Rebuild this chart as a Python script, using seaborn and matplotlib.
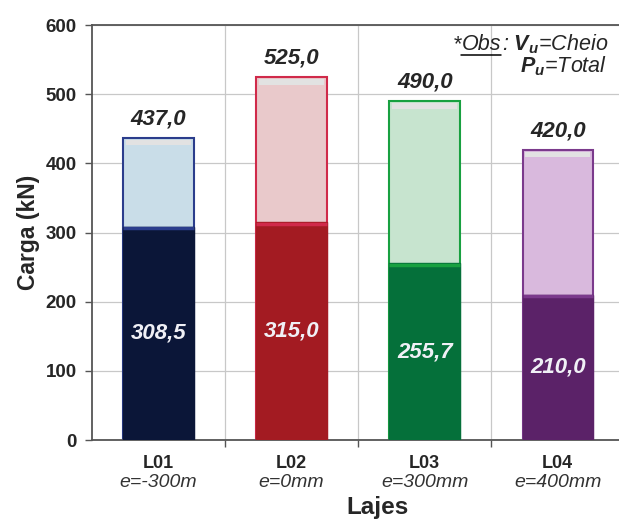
import seaborn as sns
import matplotlib.pyplot as plt
import pandas as pd

lajes = ['L01', 'L02', 'L03', 'L04']
excentricidade = ['e=-300m', 'e=0mm', 'e=300mm', 'e=400mm']
p_total = [437.0, 525.0, 490.0, 420.0]
v_cheio = [308.5, 315.0, 255.7, 210.0]

cores_escuras = ['#0b1638', '#a31b22', '#05703a', '#5b2268']
cores_claras = ['#c9dde8', '#e9c9cb', '#c7e4cf', '#d9b9dd']
cores_borda = ['#2b3d8c', '#d02a4a', '#18a040', '#7b3a8c']

sns.set_style('white')
plt.rcParams['font.family'] = ['Liberation Sans', 'DejaVu Sans']
plt.rcParams['mathtext.fontset'] = 'custom'
plt.rcParams['mathtext.bf'] = 'Liberation Sans:bold:italic'
plt.rcParams['mathtext.it'] = 'Liberation Sans:italic'
plt.rcParams['mathtext.rm'] = 'Liberation Sans:italic'

d = pd.DataFrame({'laje': lajes, 'total': p_total, 'cheio': v_cheio})

fig = plt.figure(figsize=(6.19, 5.22), dpi=100)
ax = fig.add_axes([0.1486, 0.157, 0.86, 0.795])

sns.barplot(data=d, x='laje', y='total', hue='laje', palette=cores_claras,
            legend=False, width=0.53, saturation=1, ax=ax, zorder=2)
n = len(ax.patches)
sns.barplot(data=d, x='laje', y='cheio', hue='laje', palette=cores_escuras,
            legend=False, width=0.53, saturation=1, ax=ax, zorder=3)

for i, p in enumerate(ax.patches[:n]):
    p.set_edgecolor(cores_borda[i])
    p.set_linewidth(1.5)
    # brilho no topo
    ax.fill_between([p.get_x() + 0.02, p.get_x() + p.get_width() - 0.02],
                    p_total[i] - 11, p_total[i] - 3, color='#e2e2e2', lw=0, zorder=2.5)
for i, p in enumerate(ax.patches[n:]):
    p.set_edgecolor(cores_escuras[i])
    p.set_linewidth(1.0)
    ax.plot([p.get_x(), p.get_x() + p.get_width()], [v_cheio[i] - 2, v_cheio[i] - 2],
            color=cores_borda[i], lw=2.5, zorder=4, solid_capstyle='butt')

for i in range(len(lajes)):
    ax.text(i, p_total[i] + 12, f'{p_total[i]:.1f}'.replace('.', ','),
            ha='center', va='bottom', fontsize=16, fontweight='bold', style='italic')
    ax.text(i, v_cheio[i] / 2, f'{v_cheio[i]:.1f}'.replace('.', ','),
            ha='center', va='center', fontsize=16, fontweight='bold', style='italic',
            color='#f0f0f6', zorder=5)

ax.set_ylim(0, 600)
ax.set_xlim(-0.5, 3.5)
ax.set_yticks(range(0, 601, 100))
ax.set_yticklabels([str(v) for v in range(0, 601, 100)], fontsize=13.5, fontweight='bold')
ax.set_xticks([0.5, 1.5, 2.5])
ax.set_xticklabels([])
ax.grid(True, axis='both', color='#c8c8c8', lw=0.9, zorder=0)
ax.set_axisbelow(True)
ax.tick_params(axis='both', direction='out', length=5, width=1, color='#555555',
               left=True, bottom=True, pad=6)
for s in ['left', 'bottom', 'top']:
    ax.spines[s].set_color('#555555')
    ax.spines[s].set_linewidth(1.3)
ax.spines['right'].set_visible(False)

for i in range(len(lajes)):
    ax.text(i, -21, lajes[i], ha='center', va='top', fontsize=13, fontweight='bold')
    ax.text(i, -49, excentricidade[i], ha='center', va='top', fontsize=14,
            style='italic', color='#333333')

ax.set_xlabel('')
ax.set_ylabel('Carga (kN)', fontsize=16.5, fontweight='bold', labelpad=4)
fig.text(0.61, 0.006, 'Lajes', ha='center', va='bottom', fontsize=17.5, fontweight='bold')

# observacao
t1 = fig.text(0.732, 0.904, '*', ha='left', va='baseline', fontsize=15.5, style='italic')
t2 = fig.text(0.744, 0.904, 'Obs', ha='left', va='baseline', fontsize=15.5, style='italic')
t3 = fig.text(0.81, 0.904, r': $\mathbf{V}_\mathbf{u}$=Cheio', ha='left', va='baseline',
              fontsize=15.5, style='italic')
fig.text(0.84, 0.862, r'$\mathbf{P}_\mathbf{u}$=Total', ha='left', va='baseline',
         fontsize=15.5, style='italic')
fig.canvas.draw()
r = fig.canvas.get_renderer()
bb1 = t1.get_window_extent(r)
t2.set_x(bb1.x1 / fig.bbox.width)
fig.canvas.draw()
bb = t2.get_window_extent(r)
t3.set_x(bb.x1 / fig.bbox.width + 0.001)
fig.add_artist(plt.Line2D([bb.x0 / fig.bbox.width, bb.x1 / fig.bbox.width],
                          [0.894, 0.894], color='black', lw=1.1))

fig.savefig('out.png', dpi=100)
